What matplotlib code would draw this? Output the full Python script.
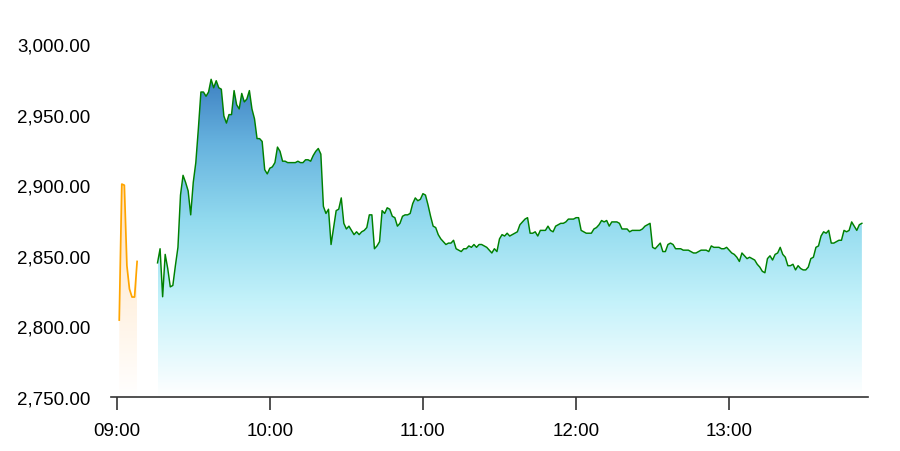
import numpy as np
import matplotlib
matplotlib.use("Agg")
import matplotlib.pyplot as plt
from matplotlib.colors import LinearSegmentedColormap
from matplotlib.ticker import FuncFormatter

plt.rcParams['font.family'] = ['Liberation Sans', 'DejaVu Sans']

# ---- data (minutes after 09:00) ----
pre_start_minute = 1
pre_values = [2804.5, 2900.8, 2900.0, 2843.0, 2826.5, 2820.8, 2820.8, 2846.0]

main_start_minute = 16
main_values = [
    2845, 2855, 2821, 2851, 2841, 2828, 2829, 2843, 2856, 2893,   # 16-25
    2907, 2902, 2896, 2879, 2902, 2916, 2940, 2966, 2966, 2963,   # 26-35
    2966, 2975, 2969, 2974, 2969, 2968, 2949, 2944, 2950, 2950,   # 36-45
    2967, 2957, 2954, 2965, 2959, 2961, 2967, 2954, 2947, 2933,   # 46-55
    2933, 2931, 2911, 2908, 2912, 2913, 2916, 2927, 2924, 2917,   # 56-65
    2917, 2916, 2916, 2916, 2916, 2917, 2916, 2916, 2918, 2918,   # 66-75
    2917, 2921, 2924, 2926, 2922, 2885, 2880, 2883, 2858, 2870,   # 76-85
    2882, 2883, 2891, 2873, 2869, 2871, 2868, 2865, 2867, 2865,   # 86-95
    2867, 2868, 2870, 2879, 2879, 2855, 2857, 2860, 2882, 2880,   # 96-105
    2884, 2883, 2878, 2877, 2871, 2873, 2878, 2879, 2879, 2880,   # 106-115
    2887, 2891, 2889, 2890, 2894, 2893, 2886, 2878, 2871, 2870,   # 116-125
    2865, 2862, 2860, 2858, 2859, 2859, 2861, 2855, 2854, 2853,   # 126-135
    2855, 2855, 2857, 2856, 2858, 2856, 2858, 2858, 2857, 2856,   # 136-145
    2854, 2852, 2855, 2853, 2862, 2865, 2864, 2866, 2864, 2865,   # 146-155
    2866, 2867, 2872, 2874, 2876, 2877, 2866, 2866, 2867, 2864,   # 156-165
    2868, 2868, 2868, 2871, 2868, 2867, 2871, 2872, 2873, 2873,   # 166-175
    2874, 2876, 2876, 2876, 2877, 2877, 2868, 2867, 2866, 2866,   # 176-185
    2866, 2869, 2870, 2872, 2875, 2874, 2875, 2871, 2874, 2874,   # 186-195
    2874, 2873, 2869, 2869, 2869, 2867, 2868, 2868, 2868, 2868,   # 196-205
    2869, 2871, 2872, 2873, 2856, 2855, 2857, 2859, 2853, 2853,   # 206-215
    2858, 2859, 2858, 2855, 2855, 2855, 2854, 2854, 2854, 2853,   # 216-225
    2852, 2852, 2853, 2854, 2854, 2854, 2853, 2857, 2856, 2856,   # 226-235
    2856, 2855, 2855, 2856, 2854, 2852, 2851, 2849, 2846, 2852,   # 236-245
    2850, 2848, 2849, 2848, 2847, 2844, 2842, 2839, 2838, 2848,   # 246-255
    2850, 2847, 2851, 2852, 2856, 2851, 2849, 2843, 2843, 2844,   # 256-265
    2840, 2843, 2841, 2840, 2840, 2842, 2848, 2849, 2856, 2857,   # 266-275
    2864, 2867, 2866, 2868, 2859, 2859, 2860, 2861, 2861, 2868,   # 276-285
    2867, 2868, 2874, 2871, 2868, 2872, 2873,                     # 286-292
]

tick_minutes = [0, 60, 120, 180, 240]
tick_labels = ["09:00", "10:00", "11:00", "12:00", "13:00"]
y_ticks = [2750, 2800, 2850, 2900, 2950, 3000]

pre_x = np.arange(len(pre_values)) + pre_start_minute
main_x = np.arange(len(main_values)) + main_start_minute

# ---- figure ----
fig = plt.figure(figsize=(9, 4.52), dpi=100)
ax = fig.add_axes([111 / 900, 1 - 398 / 452, (868 - 111) / 900, (398 - 45) / 452])
ymin, ymax = 2750, 3000
ax.set_xlim(-2.23, 294.4)
ax.set_ylim(ymin, ymax)


def gradient_fill(x, y, colors, lc, lw):
    poly = ax.fill_between(x, y, ymin, facecolor='none', edgecolor='none')
    top = max(y)
    cmap = LinearSegmentedColormap.from_list('g', colors)
    grad = np.linspace(0, 1, 256).reshape(-1, 1)
    im = ax.imshow(grad, cmap=cmap, origin='lower', aspect='auto',
                   extent=[x[0], x[-1], ymin, top], zorder=1)
    path = poly.get_paths()[0]
    im.set_clip_path(path, transform=ax.transData)
    ax.plot(x, y, color=lc, lw=lw, zorder=3)


gradient_fill(pre_x, pre_values,
              [(0.0, '#FFFFFF'), (1.0, '#FFE2BE')], '#FFA500', 1.25)
gradient_fill(main_x, main_values,
              [(0.0, '#FFFFFF'), (0.3, '#C4F2FA'), (0.55, '#93DBEF'),
               (0.8, '#66B2DE'), (1.0, '#3F82C3')], '#008000', 1.05)

ax.set_xlim(-2.23, 294.4)
ax.set_ylim(ymin, ymax)

for s in ['top', 'right', 'left']:
    ax.spines[s].set_visible(False)
ax.spines['bottom'].set_color('#333333')
ax.spines['bottom'].set_linewidth(1.2)

ax.set_xticks(tick_minutes)
ax.set_xticklabels(tick_labels)
ax.set_yticks(y_ticks)
ax.yaxis.set_major_formatter(FuncFormatter(lambda v, p: f"{v:,.2f}"))
ax.tick_params(axis='x', length=9, width=1.2, color='#333333', pad=9,
               labelsize=13.5, labelcolor='#000000')
ax.tick_params(axis='y', length=0, pad=15, labelsize=13.5, labelcolor='#000000')

fig.savefig('out.png', dpi=100)
